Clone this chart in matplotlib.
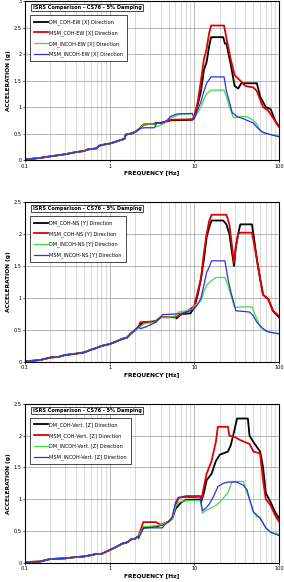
import numpy as np
import matplotlib
matplotlib.use("Agg")
import matplotlib.pyplot as plt
from matplotlib.ticker import FixedLocator, LogLocator, NullFormatter

# shared low-frequency part of each direction
lowX_f = [0.1, 0.15, 0.2, 0.3, 0.4, 0.5, 0.55, 0.7, 0.75, 0.9, 1.0, 1.2, 1.3, 1.5, 1.55, 1.8, 2.0]
lowX_a = [0.01, 0.04, 0.07, 0.11, 0.15, 0.17, 0.20, 0.22, 0.27, 0.30, 0.31, 0.35, 0.37, 0.40, 0.48, 0.50, 0.53]

lowY_f = [0.1, 0.15, 0.2, 0.25, 0.3, 0.4, 0.5, 0.6, 0.7, 0.8, 1.0, 1.2, 1.4, 1.6, 1.8, 2.0, 2.2]
lowY_a = [0.01, 0.03, 0.07, 0.08, 0.11, 0.13, 0.15, 0.19, 0.22, 0.25, 0.28, 0.32, 0.36, 0.38, 0.45, 0.50, 0.55]

lowZ_f = [0.1, 0.15, 0.2, 0.3, 0.4, 0.5, 0.6, 0.7, 0.8, 1.0, 1.2, 1.4, 1.6, 1.8, 2.0, 2.2]
lowZ_a = [0.01, 0.02, 0.06, 0.07, 0.09, 0.10, 0.12, 0.14, 0.14, 0.20, 0.25, 0.30, 0.32, 0.37, 0.38, 0.42]

# X direction (EW)
x_dm_coh_f = [2.3, 2.5, 3.0, 3.4, 3.5, 4.0, 4.5, 5.0, 5.2, 9.5, 10, 11, 12, 13, 14, 15, 15.8, 22, 23, 24, 27, 30, 33, 36, 55, 60, 70, 80, 90, 100]
x_dm_coh_a = [0.60, 0.67, 0.68, 0.68, 0.70, 0.70, 0.72, 0.74, 0.75, 0.76, 0.80, 1.05, 1.3, 1.7, 1.85, 2.15, 2.32, 2.32, 2.2, 2.2, 1.8, 1.4, 1.35, 1.45, 1.45, 1.2, 1.0, 0.96, 0.75, 0.63]
x_msm_coh_f = [2.3, 2.5, 3.0, 3.4, 3.5, 4.0, 4.5, 5.0, 5.2, 9.5, 10, 11, 12, 13, 14, 15, 15.8, 22.5, 24, 27, 30, 35, 40, 50, 55, 65, 75, 85, 100]
x_msm_coh_a = [0.60, 0.67, 0.68, 0.68, 0.70, 0.70, 0.72, 0.74, 0.76, 0.77, 0.82, 1.1, 1.5, 1.9, 2.1, 2.4, 2.54, 2.54, 2.3, 1.9, 1.6, 1.5, 1.4, 1.37, 1.3, 1.0, 0.93, 0.8, 0.63]
x_dm_incoh_f = [2.3, 2.5, 3.3, 3.6, 4.0, 4.5, 5.0, 6.0, 7.0, 9.5, 10, 11, 12, 13, 14, 15.8, 22.5, 24, 26, 29, 35, 42, 50, 55, 60, 70, 100]
x_dm_incoh_a = [0.60, 0.68, 0.68, 0.63, 0.66, 0.70, 0.78, 0.83, 0.87, 0.87, 0.80, 0.9, 1.0, 1.15, 1.25, 1.32, 1.32, 1.2, 1.0, 0.8, 0.82, 0.82, 0.75, 0.68, 0.55, 0.50, 0.45]
x_msm_incoh_f = [2.3, 2.6, 3.4, 3.6, 4.2, 4.8, 5.2, 6.2, 9.5, 10, 11, 12, 13, 14, 15.8, 22.5, 24, 26, 28, 32, 38, 45, 50, 55, 65, 80, 100]
x_msm_incoh_a = [0.60, 0.61, 0.61, 0.70, 0.70, 0.75, 0.82, 0.87, 0.88, 0.78, 0.95, 1.1, 1.3, 1.45, 1.57, 1.57, 1.3, 1.1, 0.9, 0.82, 0.78, 0.73, 0.70, 0.62, 0.52, 0.48, 0.44]

# Y direction (NS)
y_dm_coh_f = [2.3, 2.5, 3.5, 4.0, 6.0, 6.2, 7.0, 9.0, 10, 11, 12, 13, 14, 15, 16, 22, 24, 26, 28, 29.5, 31, 33, 35, 48, 50, 55, 60, 65, 75, 85, 100]
y_dm_coh_a = [0.58, 0.62, 0.63, 0.70, 0.70, 0.68, 0.75, 0.76, 0.85, 1.05, 1.3, 1.6, 1.95, 2.1, 2.21, 2.21, 2.15, 2.0, 1.7, 1.5, 1.8, 2.0, 2.15, 2.15, 2.0, 1.6, 1.3, 1.05, 0.98, 0.8, 0.70]
y_msm_coh_f = [2.3, 3.0, 3.5, 4.0, 6.0, 6.5, 8.0, 9.5, 10, 11, 12, 13, 14, 15, 16, 24, 26, 28, 29.5, 31, 33, 35, 48, 50, 55, 60, 65, 75, 85, 100]
y_msm_coh_a = [0.62, 0.63, 0.64, 0.70, 0.70, 0.72, 0.78, 0.85, 0.88, 1.1, 1.3, 1.7, 2.0, 2.2, 2.3, 2.3, 2.15, 1.8, 1.55, 1.8, 2.0, 2.02, 2.02, 1.9, 1.6, 1.3, 1.05, 0.98, 0.8, 0.72]
y_dm_incoh_f = [2.3, 2.6, 3.5, 4.0, 5.0, 6.0, 6.5, 8.0, 9.5, 10, 12, 13, 14, 16, 18, 23, 25, 27, 30, 35, 48, 52, 60, 70, 100]
y_dm_incoh_a = [0.55, 0.60, 0.62, 0.70, 0.70, 0.72, 0.78, 0.80, 0.82, 0.88, 0.95, 1.1, 1.2, 1.27, 1.32, 1.32, 1.2, 1.05, 0.85, 0.86, 0.86, 0.75, 0.55, 0.48, 0.44]
y_msm_incoh_f = [2.3, 2.7, 3.5, 4.0, 4.2, 6.0, 7.0, 9.0, 10, 11, 12, 13, 14, 15, 16, 23, 25, 27, 29, 31, 38, 45, 50, 55, 65, 75, 100]
y_msm_incoh_a = [0.52, 0.55, 0.62, 0.70, 0.74, 0.75, 0.76, 0.80, 0.83, 0.9, 1.0, 1.2, 1.4, 1.48, 1.58, 1.58, 1.3, 1.1, 0.95, 0.80, 0.79, 0.78, 0.72, 0.62, 0.52, 0.47, 0.44]

# Z direction (Vert.)
z_dm_coh_f = [2.5, 3.5, 4.2, 5.0, 5.5, 6.0, 6.5, 7.0, 8.0, 11.8, 12, 13, 14, 16, 18, 20, 25, 27, 30, 32, 43, 45, 50, 60, 65, 70, 80, 90, 100]
z_dm_coh_a = [0.55, 0.57, 0.60, 0.65, 0.70, 0.85, 0.90, 0.95, 0.99, 0.99, 0.95, 1.1, 1.3, 1.4, 1.6, 1.7, 1.75, 1.85, 2.1, 2.27, 2.27, 2.0, 1.9, 1.75, 1.5, 1.1, 0.95, 0.8, 0.70]
z_msm_coh_f = [2.3, 2.5, 3.5, 4.0, 5.0, 5.5, 6.0, 6.5, 8.0, 11.8, 12.2, 13, 14, 16, 18, 19, 25, 26, 30, 35, 45, 50, 60, 65, 70, 80, 90, 100]
z_msm_coh_a = [0.50, 0.64, 0.64, 0.60, 0.65, 0.70, 0.90, 1.02, 1.05, 1.05, 1.0, 1.2, 1.4, 1.6, 1.9, 2.14, 2.14, 2.0, 1.98, 1.93, 1.87, 1.75, 1.72, 1.3, 1.0, 0.9, 0.75, 0.65]
z_dm_incoh_f = [2.5, 3.5, 4.0, 5.0, 5.5, 6.0, 6.5, 8.0, 11.8, 12.5, 13.5, 15, 17, 20, 23, 25, 28, 38, 42, 45, 50, 55, 60, 70, 80, 100]
z_dm_incoh_a = [0.57, 0.58, 0.60, 0.65, 0.70, 0.88, 0.95, 0.98, 0.98, 0.78, 0.82, 0.85, 0.88, 0.95, 1.05, 1.1, 1.28, 1.28, 1.1, 1.0, 0.8, 0.72, 0.72, 0.55, 0.48, 0.45]
z_msm_incoh_f = [2.2, 2.5, 4.2, 4.5, 5.0, 5.5, 6.0, 6.5, 8.0, 11.8, 12.5, 13.5, 15, 17, 19, 22, 25, 32, 38, 42, 45, 50, 55, 60, 70, 80, 100]
z_msm_incoh_a = [0.38, 0.55, 0.55, 0.60, 0.65, 0.72, 0.95, 1.03, 1.03, 1.02, 0.82, 0.85, 0.92, 1.05, 1.2, 1.25, 1.27, 1.27, 1.22, 1.15, 1.0, 0.8, 0.75, 0.70, 0.55, 0.48, 0.43]

labels_x = ["DM_COH-EW [X] Direction", "MSM_COH-EW [X] Direction",
            "DM_INCOH-EW [X] Direction", "MSM_INCOH-EW [X] Direction"]
labels_y = ["DM_COH-NS [Y] Direction", "MSM_COH-NS [Y] Direction",
            "DM_INCOH-NS [Y] Direction", "MSM_INCOH-NS [Y] Direction"]
labels_z = ["DM_COH-Vert. [Z] Direction", "MSM_COH-Vert. [Z] Direction",
            "DM_INCOH-Vert. [Z] Direction", "MSM_INCOH-Vert. [Z] Direction"]

colors = ["black", "#e00000", "#40dd40", "#3030e0"]
widths = [1.3, 1.3, 0.9, 0.9]

panels = [
    (lowX_f, lowX_a, [(x_dm_coh_f, x_dm_coh_a), (x_msm_coh_f, x_msm_coh_a),
                      (x_dm_incoh_f, x_dm_incoh_a), (x_msm_incoh_f, x_msm_incoh_a)], labels_x, 3.0),
    (lowY_f, lowY_a, [(y_dm_coh_f, y_dm_coh_a), (y_msm_coh_f, y_msm_coh_a),
                      (y_dm_incoh_f, y_dm_incoh_a), (y_msm_incoh_f, y_msm_incoh_a)], labels_y, 2.5),
    (lowZ_f, lowZ_a, [(z_dm_coh_f, z_dm_coh_a), (z_msm_coh_f, z_msm_coh_a),
                      (z_dm_incoh_f, z_dm_incoh_a), (z_msm_incoh_f, z_msm_incoh_a)], labels_z, 2.5),
]

# axes boxes in figure fraction [left, bottom, width, height]
boxes = [[0.088, 0.725, 0.894, 0.273],
         [0.088, 0.378, 0.894, 0.275],
         [0.088, 0.033, 0.894, 0.273]]

fig = plt.figure(figsize=(2.84, 5.82), dpi=100)
fs = 3.6

for box, (lf, la, series, labs, ytop) in zip(boxes, panels):
    ax = fig.add_axes(box)
    for (f, a), c, w, lab in zip(series, colors, widths, labs):
        ax.plot(lf + f, la + a, color=c, lw=w, label=lab)
    ax.set_xscale("log")
    ax.set_xlim(0.1, 100)
    ax.set_ylim(0, ytop)
    ax.xaxis.set_major_locator(FixedLocator([0.1, 1, 10, 100]))
    ax.set_xticklabels(["0.1", "1", "10", "100"])
    ax.xaxis.set_minor_locator(LogLocator(base=10, subs=np.arange(2, 10)))
    ax.xaxis.set_minor_formatter(NullFormatter())
    ax.set_yticks(np.arange(0, ytop + 0.01, 0.5))
    ax.set_yticklabels(["0", "0.5", "1", "1.5", "2", "2.5", "3"][:len(ax.get_yticks())])
    ax.grid(True, which="major", color="#999999", lw=0.5)
    ax.grid(True, which="minor", axis="x", color="#bbbbbb", lw=0.4)
    ax.tick_params(labelsize=fs, length=1.5, width=0.5, pad=1)
    ax.tick_params(which="minor", length=0)
    for s in ax.spines.values():
        s.set_linewidth(0.8)
    ax.set_xlabel("FREQUENCY [Hz]", fontsize=4.2, fontweight="bold", labelpad=1.5)
    ax.set_ylabel("ACCELERATION (g)", fontsize=4.2, fontweight="bold", labelpad=1.5)
    ax.text(0.03, 0.975, "ISRS Comparison - CS76 - 5% Damping", transform=ax.transAxes,
            fontsize=fs, fontweight="bold", va="top", ha="left",
            bbox=dict(boxstyle="square,pad=0.25", fc="white", ec="black", lw=0.5))
    leg = ax.legend(loc="upper left", bbox_to_anchor=(0.02, 0.91), fontsize=fs,
                    frameon=True, fancybox=False, edgecolor="black", framealpha=1,
                    borderaxespad=0, handlelength=2.8, borderpad=0.8, labelspacing=1.0,
                    handletextpad=0.2)
    leg.get_frame().set_linewidth(0.5)

fig.savefig("out.png", dpi=100)
